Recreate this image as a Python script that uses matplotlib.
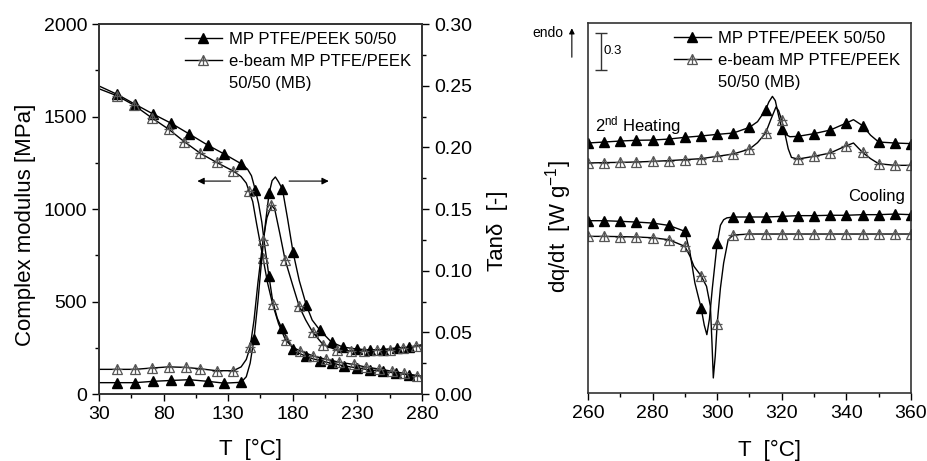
import numpy as np
import matplotlib.pyplot as plt
from matplotlib.ticker import MultipleLocator

plt.rcParams['font.family'] = ['Liberation Sans', 'DejaVu Sans']
plt.rcParams['mathtext.fontset'] = 'custom'
plt.rcParams['mathtext.rm'] = 'Liberation Sans'
plt.rcParams['mathtext.it'] = 'Liberation Sans:italic'

# ---- DMA: complex modulus [MPa] ----
mp_mod_T = [30, 44, 58, 72, 86, 100, 114, 127, 140, 145, 148, 151, 153.5, 156, 158.5,
            161.5, 164.5, 168, 171.5, 176, 180, 185, 190, 195, 201, 210, 220, 230,
            240, 250, 260, 270, 280]
mp_mod = [1665, 1620, 1566, 1513, 1463, 1405, 1346, 1297, 1245, 1215, 1180, 1103, 1030,
          930, 790, 640, 500, 410, 355, 295, 245, 220, 205, 192, 180, 166, 152, 141,
          130, 122, 113, 103, 94]
mp_mod_marks = [44, 58, 72, 86, 100, 114, 127, 140, 151, 161.5, 171.5, 180, 190, 201,
                210, 220, 230, 240, 250, 260, 270]

eb_mod_T = [30, 44, 57, 71, 84, 96, 108.5, 121, 134, 140, 144, 146, 149, 152, 157,
            160.5, 164.4, 169, 174.4, 180, 185.5, 196, 206, 216, 227, 237, 247, 257,
            266, 276, 280]
eb_mod = [1650, 1612, 1562, 1492, 1431, 1364, 1301, 1252, 1205, 1175, 1140, 1100, 1040,
          920, 733, 600, 486, 380, 292, 252, 234, 205, 187, 172, 160, 145, 135, 123,
          112, 100, 96]
eb_mod_marks = [44, 57, 71, 84, 96, 108.5, 121, 134, 146, 157, 164.4, 174.4, 185.5, 196,
                206, 216, 227, 237, 247, 257, 266, 276]

# ---- DMA: tan delta ----
mp_tan_T = [30, 44, 58, 72, 86, 100, 114, 127, 140, 144, 147, 150, 153, 156, 159, 161.7,
            164, 166.5, 169, 172, 176, 180.2, 185, 190.5, 195, 200.8, 210, 219, 229.5,
            240, 249.5, 261, 270, 280]
mp_tan = [0.0092, 0.0092, 0.0092, 0.0103, 0.011, 0.0116, 0.0103, 0.0088, 0.0095, 0.014,
          0.025, 0.045, 0.075, 0.11, 0.14, 0.163, 0.173, 0.176, 0.172, 0.166, 0.142,
          0.115, 0.092, 0.072, 0.060, 0.052, 0.042, 0.038, 0.0365, 0.0357, 0.036,
          0.0375, 0.038, 0.039]
mp_tan_marks = [44, 58, 72, 86, 100, 114, 127, 140, 150, 161.7, 172, 180.2, 190.5, 200.8,
                210, 219, 229.5, 240, 249.5, 261, 270]

eb_tan_T = [30, 44, 58, 71, 84, 97, 108, 121, 134, 140, 144, 147, 150, 153, 157, 160,
            163.5, 166, 170, 174, 180, 185, 190, 195.5, 203.5, 214, 225, 235, 245, 255,
            265, 275, 280]
eb_tan = [0.020, 0.020, 0.020, 0.0211, 0.022, 0.0216, 0.0205, 0.0189, 0.0189, 0.022,
          0.028, 0.038, 0.06, 0.09, 0.125, 0.143, 0.153, 0.150, 0.130, 0.109, 0.088,
          0.071, 0.060, 0.050, 0.040, 0.0357, 0.035, 0.035, 0.036, 0.036, 0.037, 0.039,
          0.040]
eb_tan_marks = [44, 58, 71, 84, 97, 108, 121, 134, 147, 157, 163.5, 174, 185, 195.5,
                203.5, 214, 225, 235, 245, 255, 265, 275]

# ---- DSC (arbitrary offset units, 0.3 W/g scale bar) ----
mp_heat_T = [260, 265, 270, 275, 280, 285, 290, 295, 300, 305, 310, 312.5, 315, 316,
             317.1, 318, 319, 320, 321, 322.5, 325, 330, 335, 340, 342.2, 345, 347.5,
             350, 355, 360]
mp_heat = [2.027, 2.035, 2.043, 2.049, 2.051, 2.059, 2.073, 2.084, 2.097, 2.108, 2.154,
           2.2, 2.297, 2.36, 2.405, 2.37, 2.25, 2.141, 2.1, 2.078, 2.081, 2.103, 2.132,
           2.189, 2.216, 2.168, 2.09, 2.035, 2.027, 2.022]

eb_heat_T = [260, 265, 270, 275, 280, 285, 290, 295, 300, 305, 310, 312.5, 315, 316.5,
             318.2, 319, 320, 321, 322, 323, 325, 330, 335, 340, 342.2, 345, 347.5, 350,
             355, 360]
eb_heat = [1.865, 1.868, 1.870, 1.873, 1.878, 1.884, 1.892, 1.9, 1.919, 1.938, 1.978,
           2.03, 2.108, 2.21, 2.319, 2.29, 2.211, 2.10, 1.98, 1.91, 1.897, 1.919, 1.946,
           2.005, 2.027, 1.951, 1.90, 1.859, 1.846, 1.846]

mp_cool_T = [260, 265, 270, 275, 280, 285, 290, 291.6, 293.1, 295, 296, 296.8, 297.6,
             298.5, 300, 301, 302, 303, 305, 310, 315, 320, 325, 330, 335, 340, 345, 350,
             355, 360]
mp_cool = [1.397, 1.397, 1.392, 1.386, 1.378, 1.359, 1.311, 1.135, 0.892, 0.692, 0.55,
           0.473, 0.6, 0.85, 1.216, 1.36, 1.405, 1.42, 1.427, 1.427, 1.427, 1.432, 1.438,
           1.438, 1.441, 1.441, 1.446, 1.446, 1.451, 1.446]

eb_cool_T = [260, 265, 270, 275, 280, 285, 290, 291.6, 292.8, 295, 296.7, 297.9, 298.4,
             298.8, 299.4, 300, 301, 302, 303.4, 305, 310, 315, 320, 325, 330, 335, 340,
             345, 350, 355, 360]
eb_cool = [1.270, 1.270, 1.268, 1.265, 1.259, 1.243, 1.189, 1.108, 1.027, 0.951, 0.865,
           0.703, 0.4, 0.122, 0.3, 0.562, 0.85, 1.054, 1.243, 1.281, 1.289, 1.289, 1.289,
           1.289, 1.289, 1.289, 1.289, 1.289, 1.289, 1.289, 1.289]

dsc_marks = [260, 265, 270, 275, 280, 285, 290, 295, 300, 305, 310, 315, 320, 325, 330,
             335, 340, 345, 350, 355, 360]

lab_mp = "MP PTFE/PEEK 50/50"
lab_eb = "e-beam MP PTFE/PEEK"
lab_eb2 = "50/50 (MB)"


def draw(ax, T, y, marks, filled):
    T = np.array(T, dtype=float)
    y = np.array(y, dtype=float)
    m = np.isin(T, marks)
    if filled:
        (h,) = ax.plot(T, y, color="k", lw=1.0, marker="^", ms=7, mfc="k", mec="k",
                       markevery=list(np.where(m)[0]))
        return h
    (h1,) = ax.plot(T, y, color="k", lw=1.0, marker="^", ms=7.5, mfc="none",
                    mec="#555555", mew=0.9, markevery=list(np.where(m)[0]))
    (h2,) = ax.plot(T[m], y[m], ls="none", marker="+", ms=6.5, color="#555555", mew=0.9)
    return (h1, h2)


def style_frame(ax):
    for s in ax.spines.values():
        s.set_linewidth(1.2)
        s.set_color("#333333")


def add_legend(ax, handles):
    blank = plt.Line2D([], [], color="none")
    ax.legend(handles + [blank], [lab_mp, lab_eb, lab_eb2], loc="upper left",
              bbox_to_anchor=(0.266, 0.978), frameon=False, fontsize=12,
              borderpad=0, borderaxespad=0, handlelength=2.2, handletextpad=0.45,
              labelspacing=0.42)


fig = plt.figure(figsize=(9.27, 4.61), dpi=100)

# ---------- left panel ----------
ax = fig.add_axes([0.1068, 0.1453, 0.3484, 0.8026])
ax2 = ax.twinx()

h_mp = draw(ax, mp_mod_T, mp_mod, mp_mod_marks, True)
h_eb = draw(ax, eb_mod_T, eb_mod, eb_mod_marks, False)
draw(ax2, mp_tan_T, mp_tan, mp_tan_marks, True)
draw(ax2, eb_tan_T, eb_tan, eb_tan_marks, False)

ax.set_xlim(30, 280)
ax.set_ylim(0, 2000)
ax2.set_ylim(0, 0.30)
ax.xaxis.set_major_locator(MultipleLocator(50, offset=30))
ax.xaxis.set_minor_locator(MultipleLocator(25, offset=30))
ax.yaxis.set_major_locator(MultipleLocator(500))
ax.yaxis.set_minor_locator(MultipleLocator(250))
ax2.yaxis.set_major_locator(MultipleLocator(0.05))
ax2.yaxis.set_minor_locator(MultipleLocator(0.025))
ax2.yaxis.set_major_formatter(lambda v, p: f"{v:.2f}")
ax.tick_params(which="both", direction="out", labelsize=14, top=False, right=False)
ax.tick_params(which="major", length=5, width=1)
ax.tick_params(which="minor", length=3, width=1)
ax2.tick_params(which="both", direction="out", labelsize=14)
ax2.tick_params(which="major", length=5, width=1)
ax2.tick_params(which="minor", length=3, width=1)
style_frame(ax)
style_frame(ax2)

ax.set_xlabel("T  [°C]", fontsize=16)
ax.xaxis.set_label_coords(0.47, -0.12)
ax.set_ylabel("Complex modulus [MPa]", fontsize=16)
ax.yaxis.set_label_coords(-0.195, 0.457)
ax2.set_ylabel("Tanδ  [-]", fontsize=16)
ax2.yaxis.set_label_coords(1.20, 0.44)

ax.annotate("", xy=(104, 1151), xytext=(134, 1151),
            arrowprops=dict(arrowstyle="-|>", color="k", lw=0.8, mutation_scale=10))
ax.annotate("", xy=(210, 1151), xytext=(175, 1151),
            arrowprops=dict(arrowstyle="-|>", color="k", lw=0.8, mutation_scale=10))

add_legend(ax2, [h_mp, h_eb])

# ---------- right panel ----------
ax3 = fig.add_axes([0.6343, 0.1475, 0.3484, 0.8026])
h3a = draw(ax3, mp_heat_T, mp_heat, dsc_marks, True)
h3b = draw(ax3, eb_heat_T, eb_heat, dsc_marks, False)
draw(ax3, mp_cool_T, mp_cool, dsc_marks, True)
draw(ax3, eb_cool_T, eb_cool, dsc_marks, False)

ax3.set_xlim(260, 360)
ax3.set_ylim(0, 3.0)
ax3.xaxis.set_major_locator(MultipleLocator(20))
ax3.xaxis.set_minor_locator(MultipleLocator(10))
ax3.set_yticks([])
ax3.tick_params(which="both", direction="out", labelsize=14, top=False)
ax3.tick_params(which="major", length=5, width=1)
ax3.tick_params(which="minor", length=3, width=1)
style_frame(ax3)

ax3.set_xlabel("T  [°C]", fontsize=16)
ax3.xaxis.set_label_coords(0.563, -0.128)
ax3.set_ylabel("dq/dt  [W g$^{-1}$]", fontsize=16)
ax3.yaxis.set_label_coords(-0.043, 0.449)

add_legend(ax3, [h3a, h3b])

ax3.text(262.2, 2.17, "2$^{\\mathrm{nd}}$ Heating", fontsize=12, va="center", ha="left")
ax3.text(358.1, 1.59, "Cooling", fontsize=12, va="center", ha="right")

# scale bar
ax3.errorbar([264.0], [2.77], yerr=[[0.15], [0.15]], color="#333333", lw=1.0,
             capsize=4, capthick=1.0)
ax3.text(264.8, 2.77, "0.3", fontsize=9.5, va="center", ha="left")

# endo arrow
ax3.annotate("", xy=(255.0, 2.98), xytext=(255.0, 2.70), annotation_clip=False,
             arrowprops=dict(arrowstyle="-|>", color="k", lw=0.8, mutation_scale=8))
ax3.text(252.5, 2.92, "endo", fontsize=10, va="center", ha="right", clip_on=False)

fig.savefig("out.png", dpi=100)
